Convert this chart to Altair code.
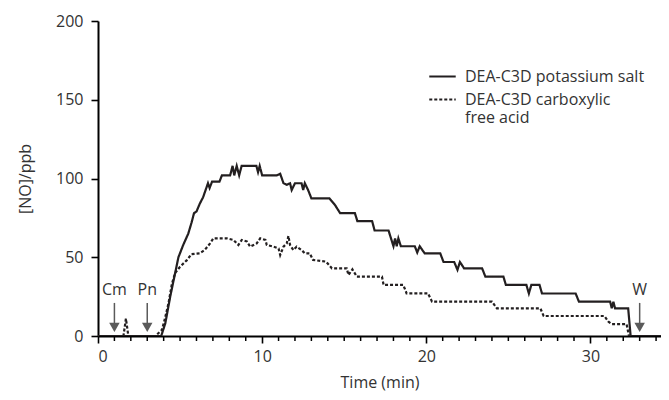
import altair as alt
import pandas as pd

# ---- data ----
series_names = ["DEA-C3D potassium salt", "DEA-C3D carboxylic|free acid"]

salt_t = [0, 3.85, 4.1, 4.4, 4.7, 4.9, 5.2, 5.5, 5.7, 5.85, 6.0, 6.2, 6.4, 6.5, 6.7, 6.8, 6.95, 7.4, 7.55,
          8.05, 8.2, 8.3, 8.45, 8.6, 8.75, 9.05, 9.65, 9.75, 9.85, 10.0, 10.9, 11.1, 11.3, 11.5, 11.7, 11.8,
          12.0, 12.4, 12.5, 12.6, 12.8, 13.0, 14.1, 14.45, 14.75, 15.65, 15.8, 16.7, 16.85, 17.7, 18.0, 18.1,
          18.2, 18.3, 18.45, 18.8, 19.3, 19.45, 19.6, 19.9, 20.85, 21.05, 21.7, 21.9, 22.05, 22.3, 23.4, 23.6,
          24.7, 24.85, 26.1, 26.25, 26.4, 26.9, 27.05, 29.1, 29.3, 31.2, 31.3, 31.4, 31.5, 31.7, 32.3, 32.45, 35]
salt_v = [0, 0, 8, 25, 40, 50, 58, 65, 72, 78, 79, 84, 88, 91, 97, 94, 98, 98, 102,
          102, 108, 102, 108, 102, 108, 108, 108, 104, 108, 102, 102, 103, 97, 96, 97, 92.7,
          97, 97, 92.7, 97, 92.7, 87.4, 87.4, 83, 78, 78, 73, 73, 67, 67, 57, 62,
          57, 62, 57, 57, 57, 53, 57, 52.5, 52.5, 47, 47, 42, 47, 43, 43, 37.7,
          37.7, 32.4, 32.4, 27, 32.4, 32.4, 27, 27, 21.8, 21.8, 17.6, 21.8, 17.6, 17.6, 17.6, 0, 0]

acid_t = [0, 1.55, 1.7, 1.85, 3.5, 3.9, 4.1, 4.3, 4.5, 4.7, 5.0, 5.4, 5.7, 6.2, 6.5, 6.83, 7.03, 7.85,
          8.25, 8.55, 8.76, 9.07, 9.27, 9.67, 9.88, 10.2, 10.28, 10.7, 11.0, 11.1, 11.3, 11.5, 11.6, 11.7,
          11.9, 12.1, 12.4, 12.6, 12.9, 13.1, 13.9, 14.25, 15.15, 15.26, 15.5, 15.77, 17.3, 17.4, 18.6, 18.8,
          20.1, 20.35, 24.0, 24.3, 26.95, 27.15, 30.85, 31.1, 31.3, 32.2, 32.35, 35]
acid_v = [0, 0, 11, 0, 0, 4, 12, 21, 33, 40, 44, 48, 52, 52.5, 54.6, 58.8, 62, 62,
          61, 57.8, 61, 60, 56.7, 58.8, 62, 61, 57.8, 56.7, 55.6, 51.4, 56.7, 58.8, 63.5, 57.8,
          54.6, 56.7, 54.6, 52.5, 52.5, 48.3, 47.2, 43, 43, 38.7, 42.3, 37.7, 37.7, 32.4, 32.4, 27.1,
          27.1, 21.8, 21.8, 17.6, 17.6, 12.7, 12.7, 9.1, 7.6, 7.6, 0, 0]

arrow_labels = ["Cm", "Pn", "W"]
arrow_t = [1, 3, 33]
arrow_top = [21, 21, 21]
arrow_stem_end = [8, 8, 8]
arrow_head = [5.5, 5.5, 5.5]
arrow_text_y = [29, 29, 29]

x_major = [0, 10, 20, 30]
x_minor = [m for m in range(1, 35) if m % 10 != 0]
y_ticks = [0, 50, 100, 150, 200]

# ---- tables ----
lines_df = pd.concat([
    pd.DataFrame({"t": salt_t, "v": salt_v, "series": series_names[0]}),
    pd.DataFrame({"t": acid_t, "v": acid_v, "series": series_names[1]}),
], ignore_index=True)
arrows_df = pd.DataFrame({"label": arrow_labels, "t": arrow_t, "top": arrow_top,
                          "end": arrow_stem_end, "head": arrow_head, "ty": arrow_text_y})
minor_df = pd.DataFrame({"t": x_minor, "base": [0] * len(x_minor)})

FONT = "Open Sans"
INK = "#231f20"
GREY = "#5a5a5a"
TXT = "#333333"

x_scale = alt.Scale(domain=[0, 34.3], nice=False)
y_scale = alt.Scale(domain=[0, 200], nice=False)

x_axis = alt.Axis(values=x_major, labelOverlap=False, tickSize=7,
                  title="Time (min)", grid=False, labelPadding=5, titlePadding=10)
y_axis = alt.Axis(values=y_ticks, title="[NO]/ppb", grid=False, tickSize=7,
                  labelPadding=8, titlePadding=22)

lines = alt.Chart(lines_df).mark_line(strokeWidth=2.2, color=INK, clip=True).encode(
    x=alt.X("t:Q", scale=x_scale, axis=x_axis),
    y=alt.Y("v:Q", scale=y_scale, axis=y_axis),
    strokeDash=alt.StrokeDash(
        "series:N",
        scale=alt.Scale(domain=series_names, range=[[1, 0], [3, 2]]),
        legend=alt.Legend(
            title=None, orient="none", legendX=330, legendY=41,
            symbolType="stroke", symbolSize=700, symbolStrokeWidth=2,
            symbolStrokeColor=INK, labelFont=FONT, labelFontSize=16, labelColor=TXT,
            labelExpr="split(datum.label, '|')", rowPadding=-2, labelLimit=300,
            padding=0, labelOffset=8,
        ),
    ),
)

minor = alt.Chart(minor_df).mark_rule(color="black", strokeWidth=1.5).encode(
    x=alt.X("t:Q", scale=x_scale),
    y=alt.Y("base:Q", scale=y_scale),
    y2=alt.value(320),
)

stems = alt.Chart(arrows_df).mark_rule(color=GREY, strokeWidth=1.5).encode(
    x="t:Q", y="top:Q", y2="end:Q")
heads = alt.Chart(arrows_df).mark_point(shape="triangle-down", filled=True, size=110,
                                         color=GREY, opacity=1).encode(x="t:Q", y="head:Q")
labels = alt.Chart(arrows_df).mark_text(font=FONT, fontSize=16, color=TXT,
                                        baseline="middle").encode(
    x="t:Q", y="ty:Q", text="label:N")

chart = alt.layer(lines, minor, stems, heads, labels).properties(
    width=563, height=315,
    autosize=alt.AutoSizeParams(type="none"),
    padding={"left": 90, "top": 13, "right": 0, "bottom": 60},
).configure_view(stroke=None).configure_axis(
    labelFont=FONT, labelFontSize=16, labelColor=TXT,
    titleFont=FONT, titleFontSize=16, titleFontWeight="normal", titleColor=TXT,
    domainColor="black", domainWidth=2, tickColor="black", tickWidth=1.6,
)

chart.save("out.html", embed_options={"renderer": "svg", "actions": False})
